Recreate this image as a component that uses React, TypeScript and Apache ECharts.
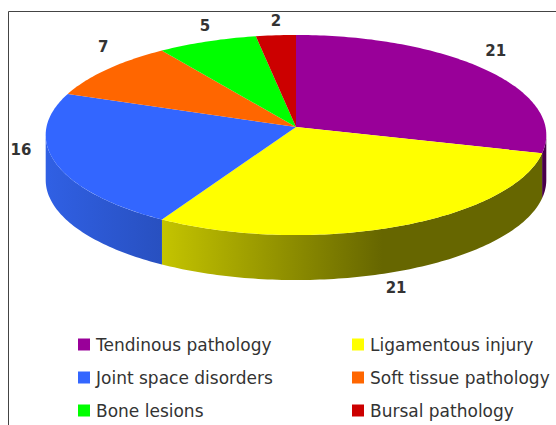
import React, { useEffect, useRef } from "react";
import * as echarts from "echarts";

const categories = [
  "Tendinous pathology",
  "Ligamentous injury",
  "Joint space disorders",
  "Soft tissue pathology",
  "Bone lesions",
  "Bursal pathology",
];
const counts = [21, 21, 16, 7, 5, 2];
const topColors = ["#990099", "#ffff00", "#3366ff", "#ff6600", "#00ff00", "#cc0000"];
const labelNudges = [
  [11, -18],
  [-3, 62],
  [-34, -12],
  [-4, -22],
  [-2, -15],
  [0, -14],
];

const CX = 296;
const CY = 127;
const RX = 249.5;
const RY = 99.4;
const PERSPECTIVE = 0.08;
const DEPTH = 45;
const FONT = "'DejaVu Sans', sans-serif";

const total = counts.reduce((a, b) => a + b, 0);

function project(deg: number): [number, number] {
  const t = (deg * Math.PI) / 180;
  const w = 1 + PERSPECTIVE * Math.cos(t);
  return [CX + (RX * Math.sin(t)) / w, CY - (RY * Math.cos(t)) / w];
}

function rim(from: number, to: number): number[][] {
  const pts: number[][] = [];
  const n = Math.max(2, Math.ceil(to - from));
  for (let i = 0; i <= n; i++) pts.push(project(from + ((to - from) * i) / n));
  return pts;
}

const WALL_FROM = (Math.acos(-PERSPECTIVE) * 180) / Math.PI;
const WALL_TO = 360 - WALL_FROM;

function wallFill(i: number): any {
  if (i === 0) return "#4a004a";
  if (i === 1)
    return new echarts.graphic.LinearGradient(0, 0, 1, 0, [
      { offset: 0, color: "#c4c400" },
      { offset: 0.58, color: "#666600" },
      { offset: 1, color: "#666600" },
    ]);
  return new echarts.graphic.LinearGradient(0, 0, 1, 0, [
    { offset: 0, color: "#3060e4" },
    { offset: 1, color: "#2850c0" },
  ]);
}

function makeRenderItem(index: number) {
  return (_params: any, api: any) => {
    const start = (counts.slice(0, index).reduce((a, b) => a + b, 0) / total) * 360;
    const end = start + (api.value(0) / total) * 360;
    const children: any[] = [];
    const wallA = Math.max(start, WALL_FROM);
    const wallB = Math.min(end, WALL_TO);
    if (wallB > wallA) {
      const edge = rim(wallA, wallB);
      const lower = edge.map(([x, y]) => [x, y + DEPTH]).reverse();
      children.push({
        type: "polygon",
        shape: { points: edge.concat(lower) },
        style: { fill: wallFill(index) },
      });
    }
    children.push({
      type: "polygon",
      shape: { points: [[CX, CY] as number[]].concat(rim(start, end)) },
      style: { fill: topColors[index] },
    });
    const [mx, my] = project((start + end) / 2);
    children.push({
      type: "text",
      style: {
        text: String(api.value(0)),
        x: mx + labelNudges[index][0],
        y: my + labelNudges[index][1],
        align: "center",
        verticalAlign: "middle",
        fontFamily: FONT,
        fontWeight: "bold",
        fontSize: 15,
        fill: "#333333",
      },
    });
    return { type: "group", children };
  };
}

function legendColumn(names: string[], left: number) {
  return {
    orient: "vertical" as const,
    left,
    top: 336,
    padding: 0,
    itemWidth: 12,
    itemHeight: 12,
    itemGap: 16,
    icon: "rect",
    selectedMode: false,
    data: names,
    textStyle: {
      fontFamily: FONT,
      fontSize: 17,
      color: "#333333",
      padding: [0, 0, 0, 1],
    },
  };
}

export default function App() {
  const ref = useRef<HTMLDivElement>(null);
  useEffect(() => {
    const chart = echarts.init(ref.current!, undefined, { renderer: "svg" });
    chart.setOption({
      animation: false,
      backgroundColor: "#ffffff",
      legend: [
        legendColumn([categories[0], categories[2], categories[4]], 78),
        legendColumn([categories[1], categories[3], categories[5]], 352),
      ],
      graphic: [
        { type: "line", shape: { x1: 8.5, y1: 11.5, x2: 556, y2: 11.5 }, style: { stroke: "#444444", lineWidth: 1 } },
        { type: "line", shape: { x1: 8.5, y1: 11.5, x2: 8.5, y2: 425 }, style: { stroke: "#444444", lineWidth: 1 } },
      ],
      series: categories.map((name, i) => ({
        type: "custom",
        name,
        coordinateSystem: "none",
        silent: true,
        itemStyle: { color: topColors[i] },
        renderItem: makeRenderItem(i),
        data: [[counts[i]]],
      })),
    });
    return () => chart.dispose();
  }, []);
  return <div ref={ref} style={{ position: "fixed", left: 0, top: 0, width: 556, height: 425 }} />;
}
